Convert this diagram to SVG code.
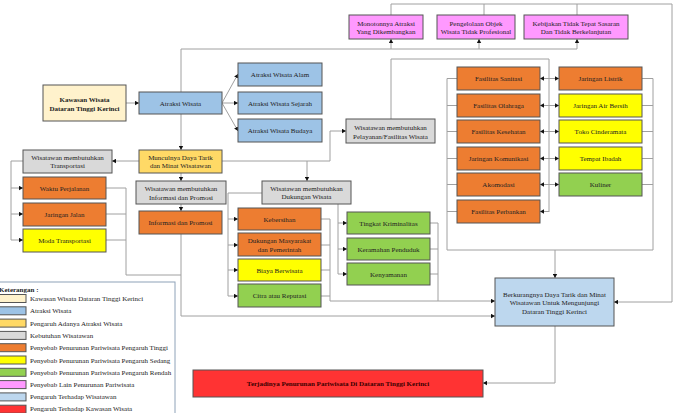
<svg xmlns="http://www.w3.org/2000/svg" width="676" height="413" viewBox="0 0 676 413">
<defs>
<marker id="ar" markerUnits="userSpaceOnUse" markerWidth="5" markerHeight="5" refX="4" refY="2.5" orient="auto">
<path d="M0,0.3 L4,2.5 L0,4.7 Z" fill="#111"/>
</marker>
</defs>
<style>
.b{stroke:#555;stroke-width:1}
.cr{fill:#FFF2CC}.bl{fill:#9DC3E6}.yo{fill:#FFD966}.gr{fill:#D9D9D9}.or{fill:#ED7D31}.ye{fill:#FFFF00}.gn{fill:#92D050}.pk{fill:#FF99FF}.lb{fill:#BDD7EE}.rd{fill:#FF3333}
text{font-family:"Liberation Serif","Times New Roman",serif;font-size:7px;fill:#222}
.c{text-anchor:middle}
.bd{font-weight:bold}
.ln{fill:none;stroke:#A0A0A0;stroke-width:1}
.la{fill:none;stroke:#A0A0A0;stroke-width:1;marker-end:url(#ar)}
</style>
<rect width="676" height="413" fill="#fff"/>

<g id="connectors">
<path class="la" d="M126,103 H139"/>
<path class="la" d="M222,103 L238,74"/>
<path class="la" d="M222,103 H238"/>
<path class="la" d="M222,103 L238,131"/>
<path class="la" d="M181,114 V150"/>
<path class="ln" d="M181,92 V49 H577"/>
<path class="la" d="M391,49 V39"/>
<path class="la" d="M479,49 V39"/>
<path class="la" d="M577,49 V39"/>
<path class="ln" d="M391,15 V4 H672 V302"/>
<path class="ln" d="M484,15 V4"/>
<path class="ln" d="M577,15 V4"/>
<path class="la" d="M672,302 H614"/>
<path class="la" d="M139,161 H112"/>
<path class="ln" d="M222,161 H330 V131"/>
<path class="la" d="M330,131 H346"/>
<path class="la" d="M307,161 V181"/>
<path class="la" d="M181,173 V181"/>
<path class="la" d="M181,204 V211"/>
<path class="ln" d="M181,234 V316"/>
<path class="la" d="M181,316 H495"/>
<path class="ln" d="M23,161 H11 V240"/>
<path class="la" d="M11,188 H23"/>
<path class="la" d="M11,214 H23"/>
<path class="la" d="M11,240 H23"/>
<path class="ln" d="M106,188 H126 V275 H181"/>
<path class="ln" d="M106,214 H126"/>
<path class="ln" d="M106,240 H126"/>
<path class="ln" d="M262,193 H228 V296"/>
<path class="la" d="M228,219 H238"/>
<path class="la" d="M228,245 H238"/>
<path class="la" d="M228,270 H238"/>
<path class="la" d="M228,296 H238"/>
<path class="ln" d="M321,219 H330 V301"/>
<path class="ln" d="M321,245 H330"/>
<path class="ln" d="M321,270 H330"/>
<path class="ln" d="M321,296 H330"/>
<path class="la" d="M330,301 H495"/>
<path class="ln" d="M338,204 V274"/>
<path class="la" d="M338,223 H347"/>
<path class="la" d="M338,249 H347"/>
<path class="la" d="M338,274 H347"/>
<path class="ln" d="M430,223 H438 V301"/>
<path class="ln" d="M430,249 H438"/>
<path class="ln" d="M430,274 H438"/>
<path class="ln" d="M391,119 V59 H549 V212"/>
<path class="la" d="M549,78.5 H540"/><path class="la" d="M549,78.5 H559"/>
<path class="la" d="M549,105.5 H540"/><path class="la" d="M549,105.5 H559"/>
<path class="la" d="M549,131.5 H540"/><path class="la" d="M549,131.5 H559"/>
<path class="la" d="M549,158.5 H540"/><path class="la" d="M549,158.5 H559"/>
<path class="la" d="M549,184.5 H540"/><path class="la" d="M549,184.5 H559"/>
<path class="la" d="M549,211.5 H540"/>
<path class="ln" d="M457,78.5 H447 V250 H653 V78.5 H642"/>
<path class="ln" d="M457,105.5 H447 M457,131.5 H447 M457,158.5 H447 M457,184.5 H447 M457,211.5 H447"/>
<path class="ln" d="M642,105.5 H653 M642,131.5 H653 M642,158.5 H653 M642,184.5 H653"/>
<path class="la" d="M555,250 V278"/>
<path class="ln" d="M555,326 V383"/>
<path class="la" d="M555,383 H483"/>
</g>

<g id="kawasan"><rect class="b cr" x="43" y="85" width="83" height="36"/><text class="c bd" x="84.5" y="101.5">Kawasan Wisata</text><text class="c bd" x="84.5" y="110.5">Dataran Tinggi Kerinci</text></g>
<g id="atraksi"><rect class="b bl" x="139" y="92" width="83" height="22"/><text class="c" x="180.5" y="105.5">Atraksi Wisata</text></g>
<g id="alam"><rect class="b bl" x="238" y="63" width="84" height="23"/><text class="c" x="280" y="77">Atraksi Wisata Alam</text></g>
<g id="sejarah"><rect class="b bl" x="238" y="92" width="84" height="22"/><text class="c" x="280" y="105.5">Atraksi Wisata Sejarah</text></g>
<g id="budaya"><rect class="b bl" x="238" y="119" width="84" height="23"/><text class="c" x="280" y="133">Atraksi Wisata Budaya</text></g>
<g id="muncul"><rect class="b yo" x="139" y="150" width="83" height="23"/><text class="c" x="180.5" y="159.5">Munculnya Daya Tarik</text><text class="c" x="180.5" y="168">dan Minat Wisatawan</text></g>
<g id="transport"><rect class="b gr" x="23" y="150" width="89" height="23"/><text class="c" x="67.5" y="159.5">Wisatawan membutuhkan</text><text class="c" x="67.5" y="168">Transportasi</text></g>
<g id="waktu"><rect class="b or" x="23" y="177" width="83" height="22"/><text class="c" x="64.5" y="190.5">Waktu Perjalanan</text></g>
<g id="jalan"><rect class="b or" x="23" y="203" width="83" height="23"/><text class="c" x="64.5" y="217">Jaringan Jalan</text></g>
<g id="moda"><rect class="b ye" x="23" y="229" width="83" height="23"/><text class="c" x="64.5" y="243">Moda Transportasi</text></g>
<g id="infoNeed"><rect class="b gr" x="136" y="181" width="90" height="23"/><text class="c" x="181" y="191">Wisatawan membutuhkan</text><text class="c" x="181" y="199.5">Informasi dan Promosi</text></g>
<g id="infoPromo"><rect class="b or" x="139" y="211" width="83" height="23"/><text class="c" x="180.5" y="225">Informasi dan Promosi</text></g>
<g id="dukungan"><rect class="b gr" x="262" y="181" width="89" height="23"/><text class="c" x="306.5" y="190.5">Wisatawan membutuhkan</text><text class="c" x="306.5" y="199">Dukungan Wisata</text></g>
<g id="kebersihan"><rect class="b or" x="238" y="208" width="83" height="22"/><text class="c" x="279.5" y="221.5">Kebersihan</text></g>
<g id="dukMasy"><rect class="b or" x="238" y="233" width="83" height="23"/><text class="c" x="279.5" y="243">Dukungan Masyarakat</text><text class="c" x="279.5" y="251.5">dan Pemerintah</text></g>
<g id="biaya"><rect class="b ye" x="238" y="259" width="83" height="22"/><text class="c" x="279.5" y="272.5">Biaya Berwisata</text></g>
<g id="citra"><rect class="b gn" x="238" y="284" width="83" height="23"/><text class="c" x="279.5" y="298">Citra atau Reputasi</text></g>
<g id="tingkat"><rect class="b gn" x="347" y="212" width="83" height="22"/><text class="c" x="388.5" y="225.5">Tingkat Kriminalitas</text></g>
<g id="keramahan"><rect class="b gn" x="347" y="238" width="83" height="22"/><text class="c" x="388.5" y="251.5">Keramahan Penduduk</text></g>
<g id="kenyamanan"><rect class="b gn" x="347" y="263" width="83" height="22"/><text class="c" x="388.5" y="276.5">Kenyamanan</text></g>
<g id="pelayanan"><rect class="b gr" x="346" y="119" width="89" height="24"/><text class="c" x="390.5" y="130">Wisatawan membutuhkan</text><text class="c" x="390.5" y="138.5">Pelayanan/Fasilitas Wisata</text></g>
<g id="monoton"><rect class="b pk" x="349" y="15" width="74" height="24"/><text class="c" x="386" y="25.5">Monotonnya Atraksi</text><text class="c" x="386" y="34">Yang Dikembangkan</text></g>
<g id="pengelolaan"><rect class="b pk" x="437" y="15" width="78" height="24"/><text class="c" x="476" y="25.5">Pengelolaan Objek</text><text class="c" x="476" y="34">Wisata Tidak Profesional</text></g>
<g id="kebijakan"><rect class="b pk" x="524" y="15" width="104" height="24"/><text class="c" x="576" y="25.5">Kebijakan Tidak Tepat Sasaran</text><text class="c" x="576" y="34">Dan Tidak Berkelanjutan</text></g>
<g id="sanitasi"><rect class="b or" x="457" y="67" width="83" height="23"/><text class="c" x="498.5" y="81">Fasilitas Sanitasi</text></g>
<g id="olahraga"><rect class="b or" x="457" y="94" width="83" height="23"/><text class="c" x="498.5" y="108">Fasilitas Olahraga</text></g>
<g id="kesehatan"><rect class="b or" x="457" y="120" width="83" height="23"/><text class="c" x="498.5" y="134">Fasilitas Kesehatan</text></g>
<g id="komunikasi"><rect class="b or" x="457" y="147" width="83" height="23"/><text class="c" x="498.5" y="161">Jaringan Komunikasi</text></g>
<g id="akomodasi"><rect class="b or" x="457" y="173" width="83" height="23"/><text class="c" x="498.5" y="187">Akomodasi</text></g>
<g id="perbankan"><rect class="b or" x="457" y="200" width="83" height="23"/><text class="c" x="498.5" y="214">Fasilitas Perbankan</text></g>
<g id="listrik"><rect class="b or" x="559" y="67" width="83" height="23"/><text class="c" x="600.5" y="81">Jaringan Listrik</text></g>
<g id="airBersih"><rect class="b ye" x="559" y="94" width="83" height="23"/><text class="c" x="600.5" y="108">Jaringan Air Bersih</text></g>
<g id="toko"><rect class="b ye" x="559" y="120" width="83" height="23"/><text class="c" x="600.5" y="134">Toko Cinderamata</text></g>
<g id="ibadah"><rect class="b ye" x="559" y="147" width="83" height="23"/><text class="c" x="600.5" y="161">Tempat Ibadah</text></g>
<g id="kuliner"><rect class="b gn" x="559" y="173" width="83" height="23"/><text class="c" x="600.5" y="187">Kuliner</text></g>
<g id="berkurang"><rect class="b lb" x="495" y="278" width="119" height="48"/><text class="c" x="554.5" y="296.5">Berkurangnya Daya Tarik dan Minat</text><text class="c" x="554.5" y="305">Wisatawan Untuk Mengunjungi</text><text class="c" x="554.5" y="313.5">Dataran Tinggi Kerinci</text></g>
<g id="penurunan"><rect class="b rd" x="193" y="370" width="290" height="27"/><text class="c bd" x="338" y="386" style="fill:#3a0000">Terjadinya  Penurunan Pariwisata Di Dataran Tinggi Kerinci</text></g>

<g id="legend">
<rect x="-1" y="282" width="176" height="140" fill="#fff" stroke="#8EA2B8" stroke-width="1"/>
<text class="bd" x="-1" y="292">Keterangan :</text>
<rect class="b cr" x="-3" y="294.5" width="29" height="8"/><text x="30" y="301">Kawasan Wisata Dataran Tinggi Kerinci</text>
<rect class="b bl" x="-3" y="306.8" width="29" height="8"/><text x="30" y="313.3">Atraksi Wisata</text>
<rect class="b yo" x="-3" y="319.1" width="29" height="8"/><text x="30" y="325.6">Pengaruh Adanya Atraksi Wisata</text>
<rect class="b gr" x="-3" y="331.4" width="29" height="8"/><text x="30" y="337.9">Kebutuhan Wisatawan</text>
<rect class="b or" x="-3" y="343.7" width="29" height="8"/><text x="30" y="350.2">Penyebab Penurunan Pariwisata Pengaruh Tinggi</text>
<rect class="b ye" x="-3" y="356" width="29" height="8"/><text x="30" y="362.5">Penyebab Penurunan Pariwisata Pengaruh Sedang</text>
<rect class="b gn" x="-3" y="368.3" width="29" height="8"/><text x="30" y="374.8">Penyebab Penurunan Pariwisata Pengaruh Rendah</text>
<rect class="b pk" x="-3" y="380.6" width="29" height="8"/><text x="30" y="387.1">Penyebab Lain Penurunan Pariwisata</text>
<rect class="b lb" x="-3" y="392.9" width="29" height="8"/><text x="30" y="399.4">Pengaruh Terhadap Wisatawan</text>
<rect class="b rd" x="-3" y="405.2" width="29" height="8"/><text x="30" y="411">Pengaruh Terhadap Kawasan Wisata</text>
</g>
</svg>
